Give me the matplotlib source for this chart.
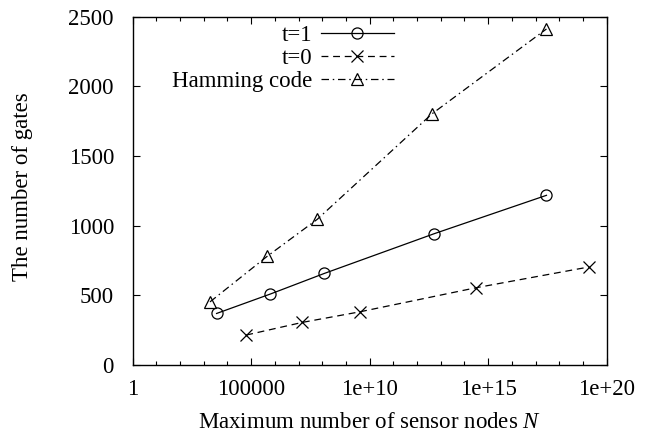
import matplotlib.pyplot as plt
from matplotlib.ticker import LogLocator, FixedLocator, FixedFormatter, NullFormatter

plt.rcParams['font.family'] = ['Liberation Serif', 'DejaVu Serif']
plt.rcParams['mathtext.fontset'] = 'custom'
plt.rcParams['mathtext.it'] = 'Liberation Serif:italic'

# values
t1_n = [10**3.54, 10**5.80, 10**8.08, 10**12.73, 10**17.46]
t1_gates = [370, 509, 657, 943, 1218]

t0_n = [10**4.79, 10**7.16, 10**9.59, 10**14.47, 10**19.26]
t0_gates = [215, 306, 382, 554, 704]

ham_n = [10**3.26, 10**5.68, 10**7.79, 10**12.63, 10**17.46]
ham_gates = [453, 781, 1046, 1803, 2412]

xticks = [1, 1e5, 1e10, 1e15, 1e20]
xtick_labels = ["1", "100000", "1e+10", "1e+15", "1e+20"]
yticks = [0, 500, 1000, 1500, 2000, 2500]

fs = 16.5
fig = plt.figure(figsize=(6.55, 4.36), dpi=100)
ax = fig.add_axes([0.2026, 0.1628, 0.9262 - 0.2026, 0.9617 - 0.1628])

lw = 0.9
ax.plot(t1_n, t1_gates, color='black', lw=lw, linestyle='-', marker='o',
        markersize=8, markerfacecolor='none', markeredgewidth=lw, label='t=1')
ax.plot(t0_n, t0_gates, color='black', lw=lw, linestyle=(0, (5.5, 3.8)), marker='x',
        markersize=8, markeredgewidth=lw, label='t=0')
ax.plot(ham_n, ham_gates, color='black', lw=lw, linestyle=(0, (6, 3, 1.2, 3)), marker='^',
        markersize=8, markerfacecolor='none', markeredgewidth=lw, label='Hamming code')

ax.set_xscale('log')
ax.set_xlim(1, 1e20)
ax.set_ylim(0, 2500)

ax.xaxis.set_major_locator(FixedLocator(xticks))
ax.xaxis.set_major_formatter(FixedFormatter(xtick_labels))
ax.xaxis.set_minor_locator(LogLocator(base=10, subs=(1.0,), numticks=30))
ax.xaxis.set_minor_formatter(NullFormatter())
ax.set_yticks(yticks)

ax.tick_params(which='both', direction='in', top=True, right=True, labelsize=fs, width=0.8)
ax.tick_params(which='major', length=5)
ax.tick_params(which='minor', length=3)
ax.tick_params(axis='x', which='major', pad=10)
ax.tick_params(axis='y', which='major', pad=13.5)
for s in ax.spines.values():
    s.set_linewidth(1.0)

ax.set_xlabel("Maximum number of sensor nodes $N$", fontsize=fs)
ax.set_ylabel("The number of gates", fontsize=fs)
ax.xaxis.set_label_coords(0.5, -0.134)
ax.yaxis.set_label_coords(-0.211, 0.513)

ax.legend(loc='upper right', bbox_to_anchor=(0.5515, 0.975), markerfirst=False, frameon=False,
          fontsize=fs, handlelength=3.2, handletextpad=0.38, labelspacing=0.08,
          borderpad=0, borderaxespad=0)

fig.savefig("out.png", dpi=100)
